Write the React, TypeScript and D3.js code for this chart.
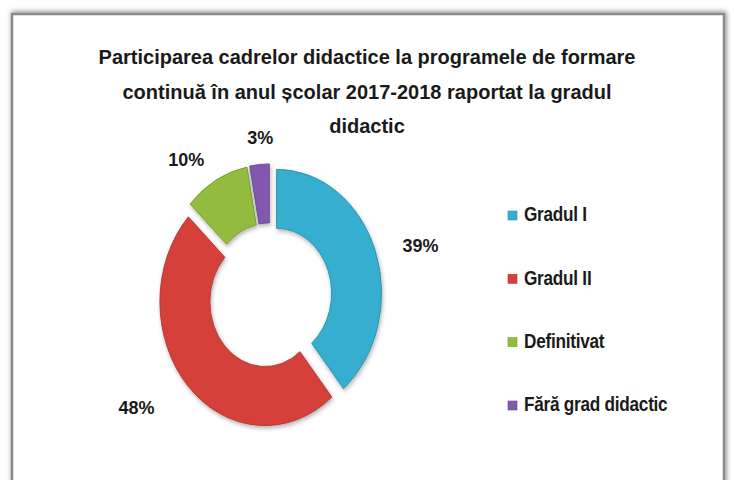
import React from "react";
import * as d3 from "d3";

const categories = ["Gradul I", "Gradul II", "Definitivat", "Fără grad didactic"];
const values = [39, 48, 10, 3];
const colors = ["#35aecf", "#d63f3a", "#93bb3e", "#8159ad"];
const titleLines = [
  "Participarea cadrelor didactice la programele de formare",
  "continuă  în anul școlar 2017-2018  raportat la gradul",
  "didactic",
];

// layout: label distance from center (in outer radii) plus a small nudge
const labelRadius = [1.3, 1.3, 1.22, 1.18];
const labelNudge = [
  [22, 6],
  [-34, 3],
  [-22, -2],
  [2, -11],
];

const W = 734;
const H = 480;
const cx = 270;
const cy = 296;
const outerR = 105;
const innerR = 55;
const sy = 1.18;
const explode = 7;
const font = "'Liberation Sans Narrow', 'Liberation Sans', Arial, sans-serif";

export default function App() {
  const pie = d3
    .pie<number>()
    .sort(null)
    .value((d) => d);
  const arcs = pie(values);
  const arc = d3.arc<d3.PieArcDatum<number>>().innerRadius(innerR).outerRadius(outerR);
  const legendY = d3.scalePoint<string>().domain(categories).range([215, 405]);

  return (
    <svg width={W} height={H} style={{ position: "absolute", left: 0, top: 0, background: "#fff" }}>
      <defs>
        <filter id="shadow" x="-5%" y="-5%" width="110%" height="110%">
          <feDropShadow dx="1" dy="-1" stdDeviation="2.5" floodColor="#000" floodOpacity="0.5" />
        </filter>
        <filter id="sliceShadow" x="-20%" y="-20%" width="140%" height="140%">
          <feDropShadow dx="1" dy="2" stdDeviation="2" floodColor="#000" floodOpacity="0.3" />
        </filter>
      </defs>
      <rect x={12} y={14} width={712} height={480} fill="#fff" stroke="#8a8a8a" strokeWidth={2.5} filter="url(#shadow)" />

      {titleLines.map((t, i) => (
        <text
          key={i}
          x={367}
          y={64 + i * 34.5}
          textAnchor="middle"
          fontFamily={font}
          fontWeight="bold"
          fontSize={20}
          fill="#1a1a1a"
        >
          {t}
        </text>
      ))}

      <g transform={`translate(${cx},${cy}) scale(1,${sy})`} filter="url(#sliceShadow)">
        {arcs.map((a, i) => {
          const mid = (a.startAngle + a.endAngle) / 2;
          const dx = Math.sin(mid) * explode;
          const dy = -Math.cos(mid) * explode;
          return (
            <path
              key={i}
              d={arc(a) || ""}
              transform={`translate(${dx},${dy})`}
              fill={colors[i]}
              stroke={d3.color(colors[i])!.darker(0.6).toString()}
              strokeWidth={0.8}
            />
          );
        })}
      </g>

      {arcs.map((a, i) => {
        const mid = (a.startAngle + a.endAngle) / 2;
        const r = outerR * labelRadius[i];
        const x = cx + Math.sin(mid) * r + labelNudge[i][0];
        const y = cy - Math.cos(mid) * r * sy + labelNudge[i][1];
        return (
          <text
            key={i}
            x={x}
            y={y}
            textAnchor="middle"
            dominantBaseline="middle"
            fontFamily={font}
            fontWeight="bold"
            fontSize={18}
            fill="#1a1a1a"
          >
            {`${values[i]}%`}
          </text>
        );
      })}

      {categories.map((c, i) => (
        <g key={c} transform={`translate(508,${legendY(c)})`}>
          <rect x={0} y={-4} width={9} height={9} fill={colors[i]} stroke={d3.color(colors[i])!.darker(0.5).toString()} strokeWidth={0.6} />
          <text
            transform="translate(16,1) scale(0.86,1)"
            dominantBaseline="middle"
            fontFamily={font}
            fontWeight="bold"
            fontSize={20}
            letterSpacing={-0.3}
            fill="#1a1a1a"
          >
            {c}
          </text>
        </g>
      ))}
    </svg>
  );
}
